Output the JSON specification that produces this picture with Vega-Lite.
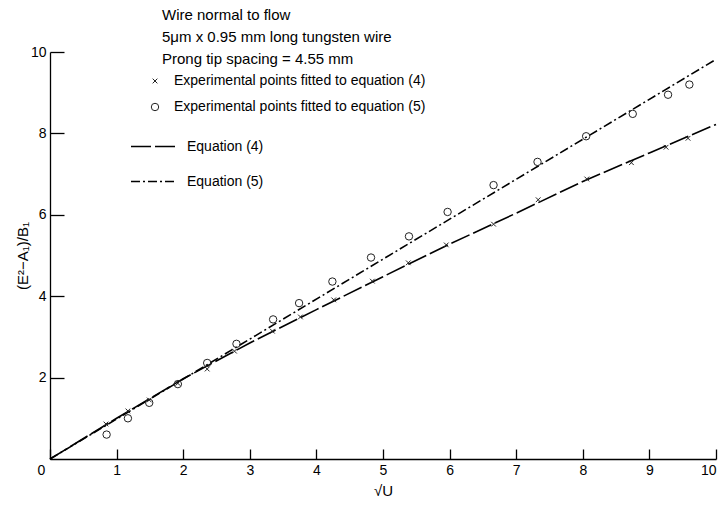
{
  "$schema": "https://vega.github.io/schema/vega-lite/v6.json",
  "width": 666,
  "height": 407,
  "autosize": {"type": "none"},
  "padding": {"left": 50, "top": 52, "right": 9, "bottom": 49},
  "background": "white",
  "config": {
    "view": {"stroke": null},
    "font": "Liberation Sans",
    "axis": {"grid": false, "domainColor": "black", "tickColor": "black", "labelColor": "black", "titleColor": "black", "labelFont": "Liberation Sans", "titleFont": "Liberation Sans", "labelFontSize": 14, "titleFontSize": 15, "titleFontWeight": "normal", "domainWidth": 1.3, "tickWidth": 1.3}
  },
  "title": {
    "text": ["Wire normal to flow", "5\u03bcm x 0.95 mm  long tungsten wire", "Prong tip spacing = 4.55 mm"],
    "anchor": "start",
    "frame": "group",
    "orient": "top",
    "dx": 112,
    "dy": 26,
    "fontSize": 15,
    "fontWeight": "normal",
    "color": "black",
    "lineHeight": 22,
    "font": "Liberation Sans"
  },
  "datasets": {
    "pts": [
      {"x": 0.84, "y": 0.86, "series": "Experimental points fitted to equation (4)"},
      {"x": 1.17, "y": 1.18, "series": "Experimental points fitted to equation (4)"},
      {"x": 1.49, "y": 1.45, "series": "Experimental points fitted to equation (4)"},
      {"x": 1.92, "y": 1.86, "series": "Experimental points fitted to equation (4)"},
      {"x": 2.36, "y": 2.21, "series": "Experimental points fitted to equation (4)"},
      {"x": 2.77, "y": 2.65, "series": "Experimental points fitted to equation (4)"},
      {"x": 3.34, "y": 3.14, "series": "Experimental points fitted to equation (4)"},
      {"x": 3.76, "y": 3.49, "series": "Experimental points fitted to equation (4)"},
      {"x": 4.26, "y": 3.91, "series": "Experimental points fitted to equation (4)"},
      {"x": 4.84, "y": 4.37, "series": "Experimental points fitted to equation (4)"},
      {"x": 5.38, "y": 4.82, "series": "Experimental points fitted to equation (4)"},
      {"x": 5.95, "y": 5.26, "series": "Experimental points fitted to equation (4)"},
      {"x": 6.66, "y": 5.77, "series": "Experimental points fitted to equation (4)"},
      {"x": 7.33, "y": 6.37, "series": "Experimental points fitted to equation (4)"},
      {"x": 8.06, "y": 6.88, "series": "Experimental points fitted to equation (4)"},
      {"x": 8.73, "y": 7.28, "series": "Experimental points fitted to equation (4)"},
      {"x": 9.25, "y": 7.66, "series": "Experimental points fitted to equation (4)"},
      {"x": 9.58, "y": 7.88, "series": "Experimental points fitted to equation (4)"},
      {"x": 0.85, "y": 0.6, "series": "Experimental points fitted to equation (5)"},
      {"x": 1.17, "y": 1.0, "series": "Experimental points fitted to equation (5)"},
      {"x": 1.49, "y": 1.38, "series": "Experimental points fitted to equation (5)"},
      {"x": 1.92, "y": 1.84, "series": "Experimental points fitted to equation (5)"},
      {"x": 2.36, "y": 2.36, "series": "Experimental points fitted to equation (5)"},
      {"x": 2.8, "y": 2.83, "series": "Experimental points fitted to equation (5)"},
      {"x": 3.35, "y": 3.43, "series": "Experimental points fitted to equation (5)"},
      {"x": 3.74, "y": 3.83, "series": "Experimental points fitted to equation (5)"},
      {"x": 4.24, "y": 4.36, "series": "Experimental points fitted to equation (5)"},
      {"x": 4.82, "y": 4.95, "series": "Experimental points fitted to equation (5)"},
      {"x": 5.39, "y": 5.47, "series": "Experimental points fitted to equation (5)"},
      {"x": 5.97, "y": 6.07, "series": "Experimental points fitted to equation (5)"},
      {"x": 6.66, "y": 6.73, "series": "Experimental points fitted to equation (5)"},
      {"x": 7.32, "y": 7.3, "series": "Experimental points fitted to equation (5)"},
      {"x": 8.05, "y": 7.93, "series": "Experimental points fitted to equation (5)"},
      {"x": 8.75, "y": 8.48, "series": "Experimental points fitted to equation (5)"},
      {"x": 9.28, "y": 8.95, "series": "Experimental points fitted to equation (5)"},
      {"x": 9.6, "y": 9.2, "series": "Experimental points fitted to equation (5)"}
    ],
    "lines": [
      {"x": 0, "y": 0, "eq": "Equation (4)"},
      {"x": 1, "y": 1.0, "eq": "Equation (4)"},
      {"x": 2, "y": 1.97, "eq": "Equation (4)"},
      {"x": 3, "y": 2.85, "eq": "Equation (4)"},
      {"x": 4, "y": 3.67, "eq": "Equation (4)"},
      {"x": 5, "y": 4.48, "eq": "Equation (4)"},
      {"x": 6, "y": 5.28, "eq": "Equation (4)"},
      {"x": 7, "y": 6.04, "eq": "Equation (4)"},
      {"x": 8, "y": 6.82, "eq": "Equation (4)"},
      {"x": 9, "y": 7.52, "eq": "Equation (4)"},
      {"x": 10, "y": 8.22, "eq": "Equation (4)"},
      {"x": 0, "y": 0, "eq": "Equation (5)"},
      {"x": 10, "y": 9.82, "eq": "Equation (5)"}
    ]
  },
  "layer": [
    {
      "data": {"name": "lines"},
      "mark": {"type": "line", "strokeWidth": 1.6, "color": "black"},
      "encoding": {
        "x": {"field": "x", "type": "quantitative", "scale": {"domain": [0, 10], "nice": false},
          "axis": {"values": [0, 1, 2, 3, 4, 5, 6, 7, 8, 9, 10], "format": "d", "title": "\u221aU", "tickSize": -10, "labelPadding": 14, "titlePadding": 6,
            "labelOffset": {"condition": {"test": "datum.value == 0", "value": -13}, "value": 0}}},
        "y": {"field": "y", "type": "quantitative", "scale": {"domain": [0, 10], "nice": false},
          "axis": {"values": [2, 4, 6, 8, 10], "format": "d", "title": "(E\u00b2\u2212A\u2081)/B\u2081", "tickSize": -14, "labelPadding": 18, "titlePadding": 0}},
        "strokeDash": {"field": "eq", "type": "nominal",
          "scale": {"domain": ["Equation (4)", "Equation (5)"], "range": [[20, 4], [9, 3, 2, 3]]},
          "legend": {"title": null, "orient": "none", "legendX": 80, "legendY": 71, "symbolType": "stroke", "symbolSize": 2025, "symbolStrokeWidth": 1.4, "symbolStrokeColor": "black", "labelFontSize": 14, "labelFont": "Liberation Sans", "labelColor": "black", "labelLimit": 0, "rowPadding": 4, "labelOffset": 10, "padding": 0}}
      }
    },
    {
      "data": {"name": "pts"},
      "mark": {"type": "point", "filled": false, "strokeWidth": 1, "color": "#222", "opacity": 1},
      "encoding": {
        "x": {"field": "x", "type": "quantitative"},
        "y": {"field": "y", "type": "quantitative"},
        "shape": {"field": "series", "type": "nominal",
          "scale": {"domain": ["Experimental points fitted to equation (4)", "Experimental points fitted to equation (5)"], "range": ["M-1,-1L1,1M-1,1L1,-1", "circle"]},
          "legend": {"title": null, "orient": "none", "legendX": 98, "legendY": 22, "labelFontSize": 14, "labelFont": "Liberation Sans", "labelColor": "black", "labelLimit": 0, "rowPadding": 12, "labelOffset": 12, "padding": 0, "symbolStrokeColor": "#222", "symbolStrokeWidth": 1}},
        "size": {"field": "series", "type": "nominal",
          "scale": {"domain": ["Experimental points fitted to equation (4)", "Experimental points fitted to equation (5)"], "range": [22, 55]}}
      }
    }
  ]
}
